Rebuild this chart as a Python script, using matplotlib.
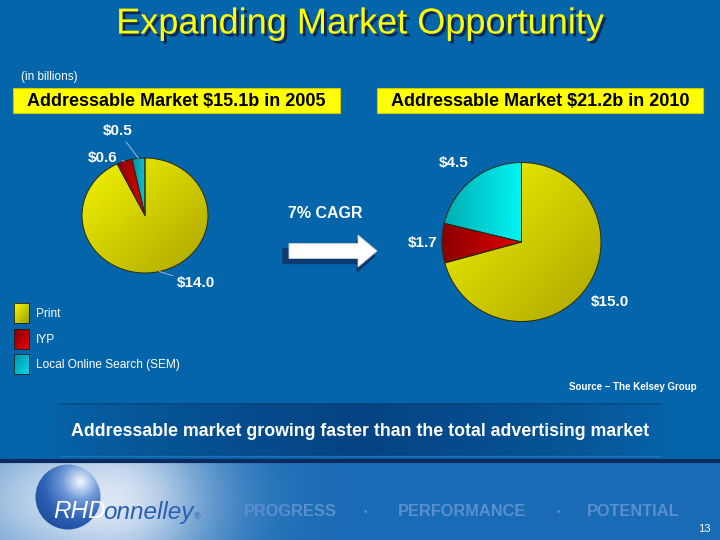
import numpy as np
import matplotlib
matplotlib.use("Agg")
import matplotlib.pyplot as plt
from matplotlib.patches import Rectangle, FancyArrow, Ellipse
from matplotlib.colors import LinearSegmentedColormap
import matplotlib.patheffects as pe

plt.rcParams['font.family'] = ['Liberation Sans', 'DejaVu Sans']

# ---- data ----
categories = ["Print", "IYP", "Local Online Search (SEM)"]
values_2005 = [14.0, 0.6, 0.5]
values_2010 = [15.0, 1.7, 4.5]
title_2005 = "Addressable Market $15.1b in 2005"
title_2010 = "Addressable Market $21.2b in 2010"
colors = ["#E0E000", "#CC0000", "#00D6DC"]
colors_2005 = ["#E0E000", "#C40000", "#12A6B4"]
# gradient end-points per category (light/start, end)
grad_2010 = [("#F4F400", "#ACA600", 'diag'), ("#8A0000", "#E40000", 'x'), ("#00AEB4", "#00F4F4", 'x')]
grad_2005 = [("#F4F400", "#ACA600", 'diag'), ("#8A0000", "#E00000", 'x'), ("#0C8C9C", "#10C4D4", 'x')]

BG = "#0565AA"

fig = plt.figure(figsize=(7.2, 5.4), dpi=100)
fig.patch.set_facecolor(BG)
ax = fig.add_axes([0, 0, 1, 1])
ax.set_xlim(0, 720)
ax.set_ylim(540, 0)
ax.axis('off')
ax.set_facecolor(BG)

# ---- title ----
ax.text(360, 24, "Expanding Market Opportunity", ha='center', va='center',
        fontsize=26, color='#FFFF00',
        path_effects=[pe.withSimplePatchShadow(offset=(2, -2), shadow_rgbFace='#10204A', alpha=0.9)])

ax.text(21, 77, "(in billions)", ha='left', va='center', fontsize=8.5, color='white')

# header boxes
for x0, x1, t in [(13, 340, title_2005), (377, 703, title_2010)]:
    ax.add_patch(Rectangle((x0, 88), x1 - x0, 25, facecolor='#FFFF00', edgecolor='#C8C800', lw=0.8, zorder=2))
    ax.text((x0 + x1) / 2, 101, t, ha='center', va='center', fontsize=13, fontweight='bold', color='black', zorder=3)

# ---- pies ----
def pie_axes(cx, cy, rx, ry):
    return fig.add_axes([(cx - rx) / 720, (540 - cy - ry) / 540, 2 * rx / 720, 2 * ry / 540])

def shade(a, wedges, grads):
    for w, (c0, c1, mode) in zip(wedges, grads):
        bb = w.get_path().get_extents()
        n = 120
        xx, yy = np.meshgrid(np.linspace(0, 1, n), np.linspace(1, 0, n))
        if mode == 'diag':
            z = (xx + (1 - yy)) / 2
        else:
            z = xx
        cm = LinearSegmentedColormap.from_list('g', [c0, c1])
        im = a.imshow(z, cmap=cm, extent=(bb.x0, bb.x1, bb.y0, bb.y1), aspect='auto',
                      interpolation='bilinear', zorder=w.get_zorder() + 0.1)
        im.set_clip_path(w)
    for w in wedges:
        w.set_zorder(w.get_zorder() + 0.2)
        w.set_facecolor('none')

ax1 = pie_axes(145, 215.5, 63, 57.5)
w1, _ = ax1.pie(values_2005, colors=colors_2005, startangle=90, counterclock=False,
                wedgeprops=dict(edgecolor='#2A2A10', linewidth=0.7))
shade(ax1, w1, grad_2005)
ax1.set_aspect('auto')
ax1.set_xlim(-1, 1); ax1.set_ylim(-1, 1)

ax2 = pie_axes(521.5, 242, 79.5, 79.5)
w2, _ = ax2.pie(values_2010, colors=colors, startangle=90, counterclock=False,
                wedgeprops=dict(edgecolor='#2A2A10', linewidth=0.7))
shade(ax2, w2, grad_2010)
ax2.set_aspect('auto')
ax2.set_xlim(-1, 1); ax2.set_ylim(-1, 1)

def rim(w, r=1.0):
    ang = np.deg2rad((w.theta1 + w.theta2) / 2)
    return (r * np.cos(ang), r * np.sin(ang))

lab_kw = dict(fontsize=11, fontweight='bold', color='white')
leader = dict(arrowstyle='-', color='#B0C8E0', lw=0.6, shrinkA=1, shrinkB=0)

# 2005 labels with leader lines
txt_pos_2005 = [(177, 283), (88, 158), (103, 131)]
for w, v, (tx, ty) in zip(w1, values_2005, txt_pos_2005):
    ax1.annotate(f"${v:.1f}", xy=rim(w), xycoords='data', xytext=(tx, ty), textcoords=ax.transData,
                 ha='left', va='center', arrowprops=leader, **lab_kw)

# 2010 labels
txt_pos_2010 = [(591, 302), (408, 243), (439, 163)]
for v, (tx, ty) in zip(values_2010, txt_pos_2010):
    ax.text(tx, ty, f"${v:.1f}", ha='left', va='center', **lab_kw)

# ---- CAGR arrow ----
ax.text(288, 214, "7% CAGR", ha='left', va='center', fontsize=11.5, fontweight='bold', color='white')
ax.add_patch(FancyArrow(283, 256, 74, 0, width=15, head_width=32, head_length=18,
                        length_includes_head=False, facecolor='#0B3A72', edgecolor='#0B3A72', zorder=3))
ax.add_patch(FancyArrow(289, 251, 69, 0, width=15, head_width=32, head_length=19,
                        length_includes_head=False, facecolor='white', edgecolor='#D0D0D0', lw=0.6, zorder=4))

# ---- legend ----
leg_y = [303, 329, 354]
leg_grad = [("#F8F800", "#A0A000"), ("#800000", "#E80000"), ("#0890A8", "#00D8E8")]
for y, (c0, c1), lab in zip(leg_y, leg_grad, categories):
    r = Rectangle((14, y), 15, 20, facecolor='none', edgecolor='#202020', lw=0.6, zorder=3)
    ax.add_patch(r)
    xx, yy = np.meshgrid(np.linspace(0, 1, 30), np.linspace(0, 1, 30))
    im = ax.imshow((xx + yy) / 2, cmap=LinearSegmentedColormap.from_list('l', [c0, c1]),
                   extent=(14, 29, y + 20, y), aspect='auto', zorder=2, interpolation='bilinear')
    im.set_clip_path(r)
    ax.text(36, y + 11, lab, ha='left', va='center', fontsize=8.6, color='white')

ax.text(697, 387, "Source \u2013 The Kelsey Group", ha='right', va='center',
        fontsize=7, fontweight='bold', color='white')

# ---- bottom band ----
xs = np.linspace(0, 1, 300)
band = np.clip(1 - np.abs(xs - 0.5) * 2.05, 0, 1) ** 0.7
band_img = np.zeros((1, 300, 4))
band_img[..., 0] = 0.02; band_img[..., 1] = 0.22; band_img[..., 2] = 0.46
band_img[..., 3] = band * 0.75
ax.imshow(band_img, extent=(40, 680, 456, 403), aspect='auto', zorder=1, interpolation='bilinear')
ax.plot([60, 660], [403.5, 403.5], color='#0A3E78', lw=1.2, alpha=0.6)
ax.plot([60, 660], [455.5, 455.5], color='#3A80C8', lw=1.0, alpha=0.5)
ax.text(360, 431, "Addressable market growing faster than the total advertising market",
        ha='center', va='center', fontsize=12.8, fontweight='bold', color='white', zorder=3)

# separator line and footer
fy, fx = np.mgrid[462:541:2, 0:721:2]
sig = np.where(fx < 110, 180.0, 105.0)
g = np.exp(-((fx - 110) / sig) ** 2 - ((fy - 500) / 90.0) ** 2)
base = np.array([0.10, 0.42, 0.71])
hi = np.array([0.86, 0.90, 0.96])
foot = base[None, None, :] + g[..., None] * (hi - base)[None, None, :]
ax.imshow(foot, extent=(0, 720, 540, 462), aspect='auto', zorder=1, interpolation='bilinear')
ax.plot([0, 720], [461, 461], color='#0A2A60', lw=3, zorder=3)

# logo sphere
sph = Ellipse((68, 497), 65, 65, facecolor='none', edgecolor='none', zorder=2)
ax.add_patch(sph)
sy, sx = np.mgrid[464:531, 35:102]
d = np.sqrt((sx - 80) ** 2 + (sy - 481) ** 2) / 55.0
cm_s = LinearSegmentedColormap.from_list('s', ['#F4F8FF', '#6F9AD8', '#2E62B4', '#1C4C9E'])
im = ax.imshow(np.clip(d, 0, 1), cmap=cm_s, extent=(35, 102, 531, 464), aspect='auto', zorder=2,
               interpolation='bilinear', vmin=0, vmax=1)
im.set_clip_path(sph)

t1 = ax.text(53, 512, "RHD", ha='left', va='center', fontsize=17.5, style='italic',
             color='white', zorder=3)
t2 = ax.annotate("onnelley", xy=(0.965, 0), xycoords=t1, ha='left', va='bottom', fontsize=17.5,
                 style='italic', color='#2A5EB0', zorder=3)
ax.annotate("\u00ae", xy=(1, 0.3), xycoords=t2, ha='left', va='center', fontsize=6.5,
            color='#2A5EB0', zorder=3)

tag_col = '#5A8FCF'
ax.text(290.5, 512, "PROGRESS", ha='center', va='center', fontsize=11.8, fontweight='bold', color=tag_col, zorder=3)
ax.text(365, 512, "\u2022", ha='center', va='center', fontsize=7, color=tag_col, zorder=3)
ax.text(462.5, 512, "PERFORMANCE", ha='center', va='center', fontsize=11.8, fontweight='bold', color=tag_col, zorder=3)
ax.text(558, 512, "\u2022", ha='center', va='center', fontsize=7, color=tag_col, zorder=3)
ax.text(633, 512, "POTENTIAL", ha='center', va='center', fontsize=11.8, fontweight='bold', color=tag_col, zorder=3)
ax.text(711, 529, "13", ha='right', va='center', fontsize=8, color='white', zorder=3)

fig.savefig("out.png", dpi=100, facecolor=fig.get_facecolor())
